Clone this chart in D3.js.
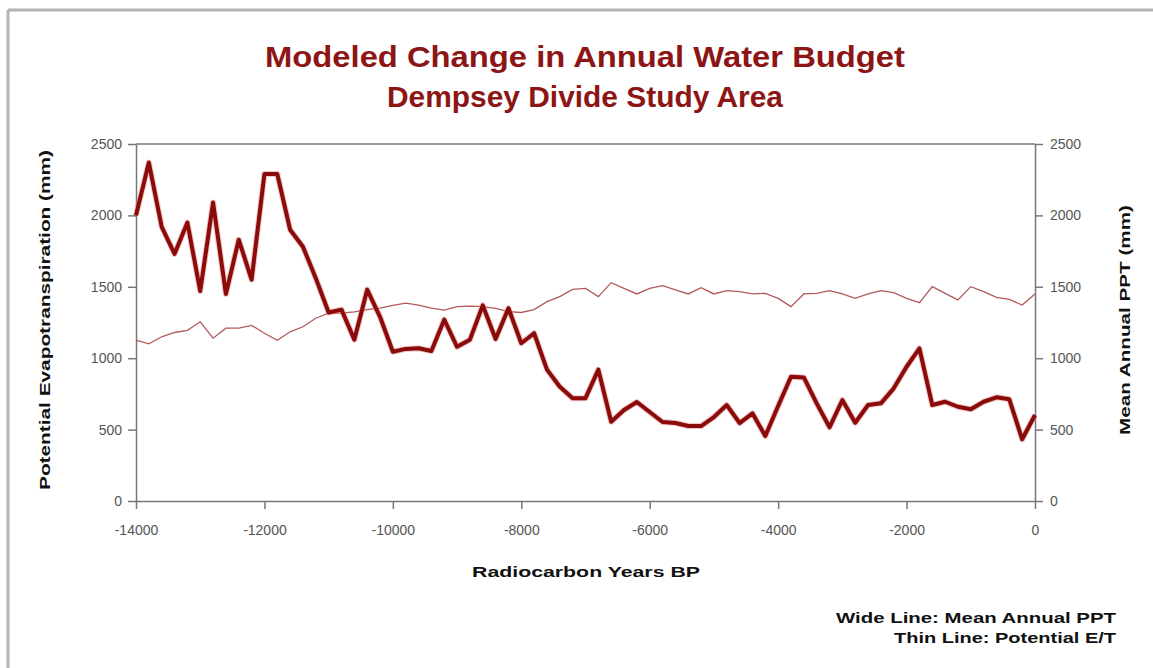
<!DOCTYPE html>
<html>
<head>
<meta charset="utf-8">
<script src="https://cdn.jsdelivr.net/npm/d3@7"></script>
<style>
  body { margin: 0; background: #fff; }
  .tick text { font-family: "Liberation Sans Narrow", "Arial Narrow", "Liberation Sans", Arial, sans-serif; fill: #555; }
  .titre-axe { font-family: "Liberation Sans", Arial, sans-serif; font-weight: bold; fill: #111; }
</style>
</head>
<body>
<svg id="chart" width="1153" height="668"></svg>
<script>
// Modeled change in annual water budget - Dempsey Divide

// Années (radiocarbone BP), un point tous les 200 ans
var annees = [-14000, -13800, -13600, -13400, -13200, -13000, -12800, -12600, -12400, -12200,
              -12000, -11800, -11600, -11400, -11200, -11000, -10800, -10600, -10400, -10200,
              -10000, -9800, -9600, -9400, -9200, -9000, -8800, -8600, -8400, -8200,
              -8000, -7800, -7600, -7400, -7200, -7000, -6800, -6600, -6400, -6200,
              -6000, -5800, -5600, -5400, -5200, -5000, -4800, -4600, -4400, -4200,
              -4000, -3800, -3600, -3400, -3200, -3000, -2800, -2600, -2400, -2200,
              -2000, -1800, -1600, -1400, -1200, -1000, -800, -600, -400, -200,
              0];

// Ligne large : précipitation annuelle moyenne (mm)
var ppt = [2000, 2370, 1920, 1730, 1950, 1470, 2090, 1450, 1830, 1550,
           2290, 2290, 1900, 1780, 1560, 1320, 1340, 1130, 1480, 1290,
           1045, 1065, 1070, 1050, 1270, 1080, 1130, 1370, 1135, 1350,
           1105, 1175, 920, 800, 720, 720, 920, 555, 637, 693,
           623, 553, 546, 525, 525, 588, 672, 546, 614, 455,
           665, 870, 865, 684, 516, 707, 548, 672, 684, 789,
           940, 1069, 672, 695, 660, 642, 695, 726, 712, 432,
           602];

// Ligne mince : évapotranspiration potentielle (mm)
var pet = [1127, 1100, 1150, 1180, 1195, 1255, 1140, 1210, 1210, 1230,
           1175, 1125, 1185, 1220, 1280, 1315, 1315, 1325, 1340, 1350,
           1370, 1385, 1372, 1350, 1337, 1361, 1365, 1361, 1349, 1326,
           1320, 1340, 1396, 1431, 1482, 1489, 1431, 1529, 1489, 1450,
           1489, 1508, 1478, 1450, 1494, 1450, 1473, 1466, 1450, 1454,
           1419, 1361, 1450, 1454, 1473, 1450, 1419, 1450, 1473, 1459,
           1419, 1389, 1501, 1454, 1408, 1501, 1466, 1426, 1412, 1372,
           1450];

var ticks_x = [-14000, -12000, -10000, -8000, -6000, -4000, -2000, 0];
var ticks_y = [0, 500, 1000, 1500, 2000, 2500];

var titre = ["Modeled Change in Annual Water Budget", "Dempsey Divide Study Area"];
var legende = ["Wide Line: Mean Annual PPT", "Thin Line: Potential E/T"];

var svg = d3.select("#chart");
var gris = "#777";

// Cadre gris en haut et à gauche
svg.append("line").attr("x1", 8).attr("y1", 10).attr("x2", 1153).attr("y2", 10)
    .attr("stroke", "#b4b4b4").attr("stroke-width", 3);
svg.append("line").attr("x1", 8).attr("y1", 10).attr("x2", 8).attr("y2", 668)
    .attr("stroke", "#b4b4b4").attr("stroke-width", 3);

// Échelles
var x = d3.scaleLinear().domain([-14000, 0]).range([136, 1035]);
var y = d3.scaleLinear().domain([0, 2500]).range([501, 144]);

// Titre (largeur forcée pour coller au rendu d'origine)
var largeurs_titre = [640, 396];
svg.selectAll(".titre")
    .data(titre)
    .enter()
    .append("text")
    .attr("class", "titre")
    .attr("x", 585)
    .attr("y", function(d, i) { return 67 + i * 40; })
    .attr("text-anchor", "middle")
    .attr("font-family", "Liberation Sans, Arial, sans-serif")
    .attr("font-weight", "bold")
    .attr("font-size", "30px")
    .attr("textLength", function(d, i) { return largeurs_titre[i]; })
    .attr("lengthAdjust", "spacingAndGlyphs")
    .attr("fill", "#8c1515")
    .text(function(d) { return d; });

// Bordure du haut de la zone de tracé
svg.append("line")
    .attr("x1", x(-14000)).attr("x2", x(0))
    .attr("y1", y(2500)).attr("y2", y(2500))
    .attr("stroke", gris).attr("stroke-width", 1.5);

// Axes
var fmt = function(d) { return String(d); };
var axe_x = svg.append("g")
    .attr("transform", "translate(0," + y(0) + ")")
    .call(d3.axisBottom(x).tickValues(ticks_x).tickFormat(fmt).tickSize(8).tickPadding(16).tickSizeOuter(0));
var axe_g = svg.append("g")
    .attr("transform", "translate(" + x(-14000) + ",0)")
    .call(d3.axisLeft(y).tickValues(ticks_y).tickFormat(fmt).tickSize(8).tickPadding(6).tickSizeOuter(0));
var axe_d = svg.append("g")
    .attr("transform", "translate(" + x(0) + ",0)")
    .call(d3.axisRight(y).tickValues(ticks_y).tickFormat(fmt).tickSize(8).tickPadding(7).tickSizeOuter(0));

[axe_x, axe_g, axe_d].forEach(function(a) {
    a.selectAll("path, line").attr("stroke", gris).attr("stroke-width", 1.5);
    a.selectAll("text").attr("font-size", "14px");
});

// Courbes
var ligne_ppt = d3.line().x(function(d, i) { return x(annees[i]); }).y(function(d) { return y(d); });
var ligne_pet = d3.line().x(function(d, i) { return x(annees[i]); }).y(function(d) { return y(d); });

svg.append("path")
    .attr("d", ligne_pet(pet))
    .attr("fill", "none")
    .attr("stroke", "#b25a5a")
    .attr("stroke-width", 1.3);

// halo léger autour de la ligne large
svg.append("path")
    .attr("d", ligne_ppt(ppt))
    .attr("fill", "none")
    .attr("stroke", "#e08a8a")
    .attr("stroke-opacity", 0.5)
    .attr("stroke-width", 6)
    .attr("stroke-linejoin", "round");
svg.append("path")
    .attr("d", ligne_ppt(ppt))
    .attr("fill", "none")
    .attr("stroke", "#8b0a0a")
    .attr("stroke-width", 4)
    .attr("stroke-linejoin", "round");

// Titres des axes
function titre_axe(texte, transform, longueur) {
    return svg.append("text")
        .attr("class", "titre-axe")
        .attr("transform", transform)
        .attr("text-anchor", "middle")
        .attr("font-size", "15px")
        .attr("textLength", longueur)
        .attr("lengthAdjust", "spacingAndGlyphs")
        .text(texte);
}
titre_axe("Potential Evapotranspiration (mm)", "translate(50,320) rotate(-90)", 340);
titre_axe("Mean Annual PPT (mm)", "translate(1130,320) rotate(-90)", 230);
titre_axe("Radiocarbon Years BP", "translate(586,577)", 228);

// Légende
var largeurs_legende = [280, 222];
svg.selectAll(".legende")
    .data(legende)
    .enter()
    .append("text")
    .attr("class", "titre-axe legende")
    .attr("x", 1116)
    .attr("y", function(d, i) { return 623 + i * 20; })
    .attr("text-anchor", "end")
    .attr("font-size", "14px")
    .attr("textLength", function(d, i) { return largeurs_legende[i]; })
    .attr("lengthAdjust", "spacingAndGlyphs")
    .text(function(d) { return d; });
</script>
</body>
</html>
